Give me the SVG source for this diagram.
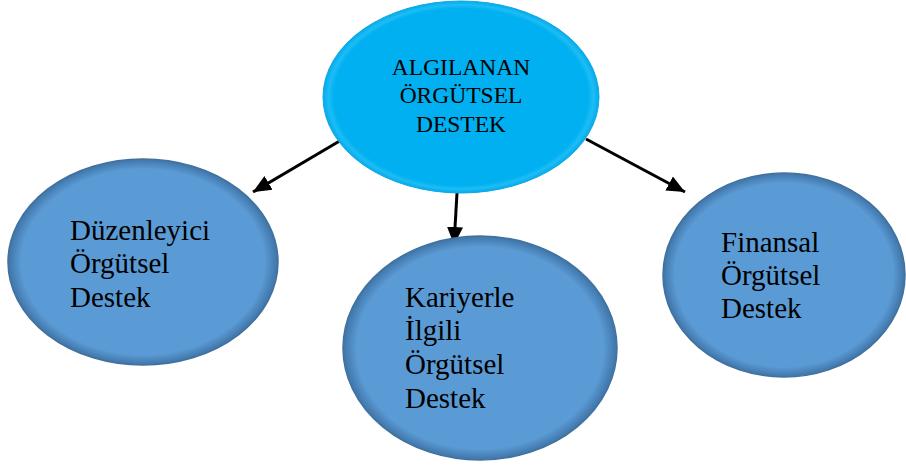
<svg xmlns="http://www.w3.org/2000/svg" width="906" height="466" viewBox="0 0 906 466">
<style>
.node{fill:url(#g2);stroke:#41719C;stroke-width:1.5}
.top{fill:url(#g1);stroke:#0AA8E8;stroke-width:1}
.t{font-family:"Liberation Serif","Times New Roman",serif;fill:#000}
.tl{font-size:29px}
.th{font-size:23.5px;text-anchor:middle}
.c{stroke:#000;stroke-width:3;fill:none;marker-end:url(#ah)}
</style>
<defs>
<radialGradient id="g1" cx="0.5" cy="0.5" r="0.5">
<stop offset="0" stop-color="#00B0F0"/>
<stop offset="0.92" stop-color="#00B0F0"/>
<stop offset="0.96" stop-color="#1DBDF5"/>
<stop offset="1" stop-color="#05AAEA"/>
</radialGradient>
<radialGradient id="g2" cx="0.5" cy="0.5" r="0.5">
<stop offset="0" stop-color="#5B9BD5"/>
<stop offset="0.9" stop-color="#5B9BD5"/>
<stop offset="1" stop-color="#3F74A8"/>
</radialGradient>
<marker id="ah" markerUnits="userSpaceOnUse" markerWidth="20" markerHeight="18" refX="18" refY="9" orient="auto">
<path d="M0,1 L18,9 L0,17 Z" fill="#000"/>
</marker>
</defs>
<g id="connectors">
<line class="c" x1="343" y1="139" x2="253" y2="192"/>
<line class="c" x1="457" y1="193" x2="454" y2="245"/>
<line class="c" x1="586" y1="139" x2="685" y2="192"/>
</g>
<g id="n-top">
<ellipse class="top" cx="461" cy="97" rx="138" ry="96"/>
<text class="t th" x="461" y="75">ALGILANAN</text>
<text class="t th" x="461" y="103">ÖRGÜTSEL</text>
<text class="t th" x="461" y="132">DESTEK</text>
</g>
<g id="n-left">
<ellipse class="node" cx="143" cy="262" rx="135" ry="103"/>
<text class="t tl" x="70" y="240">Düzenleyici</text>
<text class="t tl" x="70" y="273">Örgütsel</text>
<text class="t tl" x="70" y="307">Destek</text>
</g>
<g id="n-mid">
<ellipse class="node" cx="480" cy="348" rx="137" ry="112"/>
<text class="t tl" x="405" y="307">Kariyerle</text>
<text class="t tl" x="405" y="340">İlgili</text>
<text class="t tl" x="405" y="374">Örgütsel</text>
<text class="t tl" x="405" y="408">Destek</text>
</g>
<g id="n-right">
<ellipse class="node" cx="784" cy="275" rx="121" ry="102"/>
<text class="t tl" x="721" y="252">Finansal</text>
<text class="t tl" x="721" y="285">Örgütsel</text>
<text class="t tl" x="721" y="318">Destek</text>
</g>
</svg>
